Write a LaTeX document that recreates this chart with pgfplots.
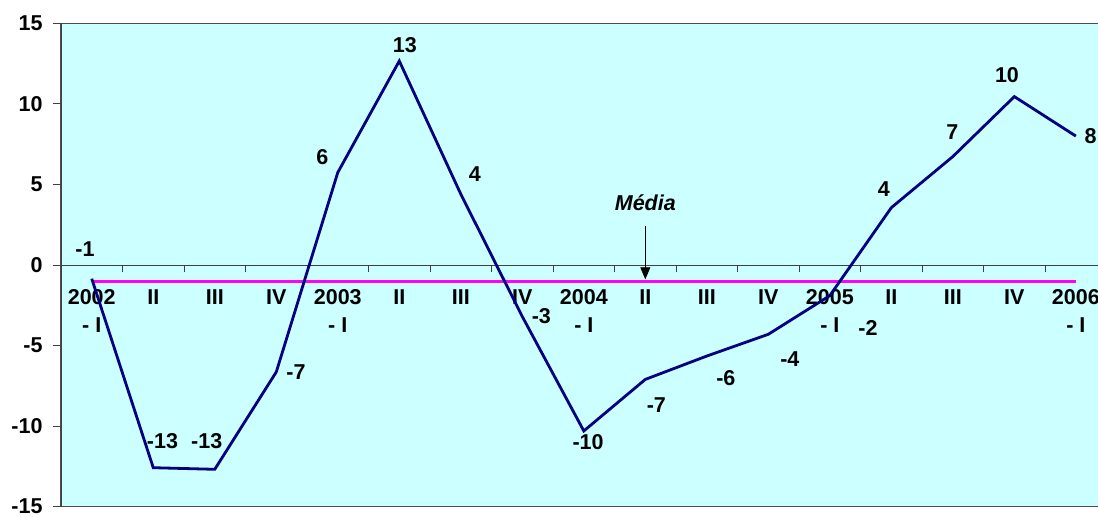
\documentclass[border=0pt]{standalone}
\usepackage{fontspec}
\setmainfont{Liberation Sans}
\usepackage{pgfplots}
\pgfplotsset{compat=1.18}
\usetikzlibrary{calc,arrows.meta}
\definecolor{bgcyan}{HTML}{CCFFFF}
\definecolor{navyline}{HTML}{000080}
\definecolor{mediacol}{HTML}{FF00FF}

\begin{document}
\begin{tikzpicture}
\begin{axis}[
    name=ax,
    scale only axis,
    width=1037pt, height=483.4pt,
    xmin=-0.5, xmax=16.36,
    ymin=-15, ymax=15,
    axis x line=middle,
    axis y line=left,
    axis line style={-, draw=black!75, line width=0.8pt},
    axis background/.style={fill=bgcyan, draw=gray!60!black, line width=1pt},
    xtick={0,...,16},
    xticklabels={{2002\\- I},II,III,IV,{2003\\- I},II,III,IV,{2004\\- I},II,III,IV,{2005\\- I},II,III,IV,{2006\\- I}},
    major x tick style={draw=none},
    minor xtick={0.5,1.5,...,15.5},
    minor tick length=7pt,
    xtick align=outside,
    ytick={-15,-10,-5,0,5,10,15},
    yticklabels={-15,-10,-5,0,5,10,15},
    ytick align=outside,
    major tick length=8pt,
    tick style={draw=black!75, line width=0.8pt},
    x tick label style={font=\fontsize{21.5}{28}\selectfont\bfseries, align=center, anchor=north, yshift=-13pt},
    y tick label style={font=\fontsize{21.5}{24}\selectfont\bfseries, xshift=-7pt},
    clip=false,
]
% average line
\addplot[mediacol, line width=3pt] coordinates {(0,-1.0) (16,-1.0)};
% quarterly series
\addplot[navyline, line width=2.8pt, mark=none] coordinates {
    (0,-0.85) (1,-12.58) (2,-12.68) (3,-6.64) (4,5.74) (5,12.66) (6,4.4) (7,-3.2)
    (8,-10.3) (9,-7.1) (10,-5.65) (11,-4.3) (12,-1.9) (13,3.56) (14,6.73) (15,10.45) (16,8.0)
};
% data labels
\addplot[draw=none, mark=none, nodes near coords, point meta=explicit symbolic,
    nodes near coords style={anchor=center, inner sep=0pt, text=black, font=\fontsize{21.5}{24}\selectfont\bfseries}]
    table[meta=l] {
x y l
-0.11 0.97 -1
1.15 -10.92 -13
1.87 -10.92 -13
3.32 -6.63 -7
3.75 6.72 6
5.09 13.67 13
6.23 5.63 4
7.31 -3.17 -3
8.07 -11.02 -10
9.18 -8.71 -7
10.31 -6.99 -6
11.35 -5.81 -4
12.62 -3.89 -2
12.88 4.74 4
13.99 8.22 7
14.88 11.78 10
16.24 7.97 8
};
% Media annotation
\addplot[black, line width=0.7pt, -{Triangle[length=12pt,width=10pt]}] coordinates {(9,2.42) (9,-0.89)};
\addplot[draw=none, mark=none, nodes near coords, point meta=explicit symbolic,
    nodes near coords style={anchor=center, inner sep=0pt, text=black, font=\fontsize{21.5}{24}\selectfont\bfseries\itshape}]
    table[meta=l] {
x y l
9.0 3.85 Média
};
\end{axis}
\pgfresetboundingbox
\path[use as bounding box] ($(ax.south west)+(-61pt,-10pt)$) rectangle ($(ax.north east)+(0,23.3pt)$);
\end{tikzpicture}
\end{document}
